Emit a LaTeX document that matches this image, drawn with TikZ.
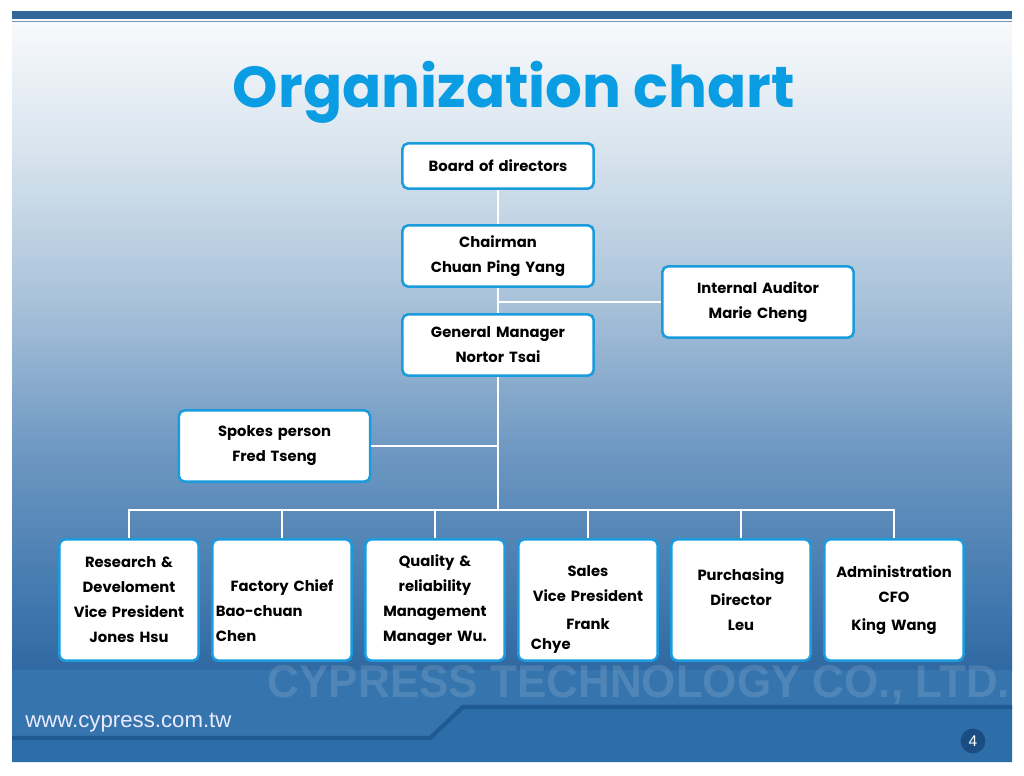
\documentclass[tikz,border=0pt]{standalone}
\usepackage{fontspec}
\setmainfont{Poppins}
\newfontfamily\webfont{Liberation Sans}
\usetikzlibrary{positioning}

\definecolor{boxblue}{HTML}{1A9BDC}
\definecolor{titleblue}{HTML}{0A9DE3}
\definecolor{topbar}{HTML}{33669A}
\definecolor{footband}{HTML}{3574AD}
\definecolor{footlow}{HTML}{2D6DA8}
\definecolor{footline}{HTML}{1F5A92}
\definecolor{pagedot}{HTML}{1B4D82}
\definecolor{bgA}{HTML}{2F68A2}
\definecolor{bgB}{HTML}{4178AE}
\definecolor{bgC}{HTML}{6E98C2}
\definecolor{bgD}{HTML}{A9C2DA}
\definecolor{bgE}{HTML}{D8E4EE}
\definecolor{bgF}{HTML}{F8FAFC}

\pgfdeclareverticalshading{slidebg}{100bp}{color(0bp)=(bgA); color(25bp)=(bgA);
  color(30.5bp)=(bgB); color(42bp)=(bgC); color(53.5bp)=(bgD); color(65bp)=(bgE);
  color(75bp)=(bgF); color(100bp)=(bgF)}

\tikzset{
  box/.style={draw=boxblue, line width=1.8pt, fill=white, rounded corners=4pt,
    inner sep=0pt, align=center, font=\bfseries\fontsize{10.5}{17.8}\selectfont},
  head/.style={box, minimum width=4.78cm, text width=4.6cm},
  unit/.style={box, minimum width=3.48cm, text width=3.3cm, minimum height=3.03cm},
  link/.style={white, line width=1.5pt},
}

\begin{document}
\begin{tikzpicture}[x=0.025cm, y=-0.025cm]
  \useasboundingbox (0,0) rectangle (1024,775);
  %% Slide
  \fill[white] (0,0) rectangle (1024,775);
  \shade[shading=slidebg] (12,20) rectangle (1012,672);
  \fill[topbar] (12,11) rectangle (1012,19);
  \draw[topbar!70, line width=0.8pt] (12,21.5) -- (1012,21.5);
  %% Footer
  \fill[footband] (12,670) rectangle (1012,762);
  \fill[footlow] (12,738) -- (430,738) -- (463,707) -- (1012,707) -- (1012,762) -- (12,762) -- cycle;
  \draw[footline, line width=3pt] (12,738) -- (430,738) -- (463,707) -- (1012,707);
  \node[white, opacity=0.13, anchor=base, inner sep=0pt] (mark) at (639,697)
    {\resizebox{18.55cm}{0.8cm}{\webfont\bfseries CYPRESS TECHNOLOGY CO., LTD.}};
  \node[anchor=base west, inner sep=0pt, text=white!92!blue, font=\webfont\fontsize{15.8}{18}\selectfont] (web) at (25,727) {www.cypress.com.tw};
  \node[circle, fill=pagedot, minimum size=0.62cm, inner sep=0pt, text=white, font=\webfont\fontsize{11}{12}\selectfont] (page) at (973,741) {4};
  %% Title
  \node[anchor=base, inner sep=0pt, text=titleblue] (title) at (514,107)
    {\resizebox{14.05cm}{!}{\bfseries Organization chart}};

  %% Top of the chart
  \node[head, minimum height=1.13cm] (board) at (498,166) {Board of directors};
  \node[head, minimum height=1.53cm] (chair) at (498,256) {Chairman\\Chuan Ping Yang};
  \node[head, minimum height=1.78cm] (auditor) at (758,302) {Internal Auditor\\Marie Cheng};
  \node[head, minimum height=1.53cm] (gm) at (498,345) {General Manager\\Nortor Tsai};
  \node[head, minimum height=1.78cm] (spokes) at (274.5,446) {Spokes person\\Fred Tseng};

  %% Departments
  \node[unit] (rd) at (129,600) {Research \&\\Develoment\\Vice President\\Jones Hsu};
  \node[unit] (fac) at (282,600) {\rule{0pt}{23pt}Factory Chief\\
    \makebox[\hsize][l]{Bao-chuan}\\\makebox[\hsize][l]{Chen}};
  \node[unit] (qa) at (435,600) {Quality \&\\reliability\\Management\\Manager Wu.};
  \node[unit] (sales) at (588,600) {\rule{0pt}{21pt}Sales\\Vice President\\[2pt]Frank\\[-3.6pt]
    \makebox[\hsize][l]{\hspace{0.225cm}Chye}};
  \node[unit] (pur) at (741,600) {Purchasing\\Director\\Leu};
  \node[unit] (adm) at (894,600) {Administration\\CFO\\[2pt]King Wang};

  %% Lines
  \coordinate (bus) at (498,510);
  \draw[link] (board) -- (chair);
  \draw[link] (chair) -- (gm);
  \draw[link] (auditor.west) -- (auditor.west -| chair.south);
  \draw[link] (gm) -- (bus);
  \draw[link] (spokes) -- (spokes -| gm.south);
  \foreach \u in {rd,fac,qa,sales,pur,adm}
    \draw[link] (\u) |- (bus);
\end{tikzpicture}
\end{document}
